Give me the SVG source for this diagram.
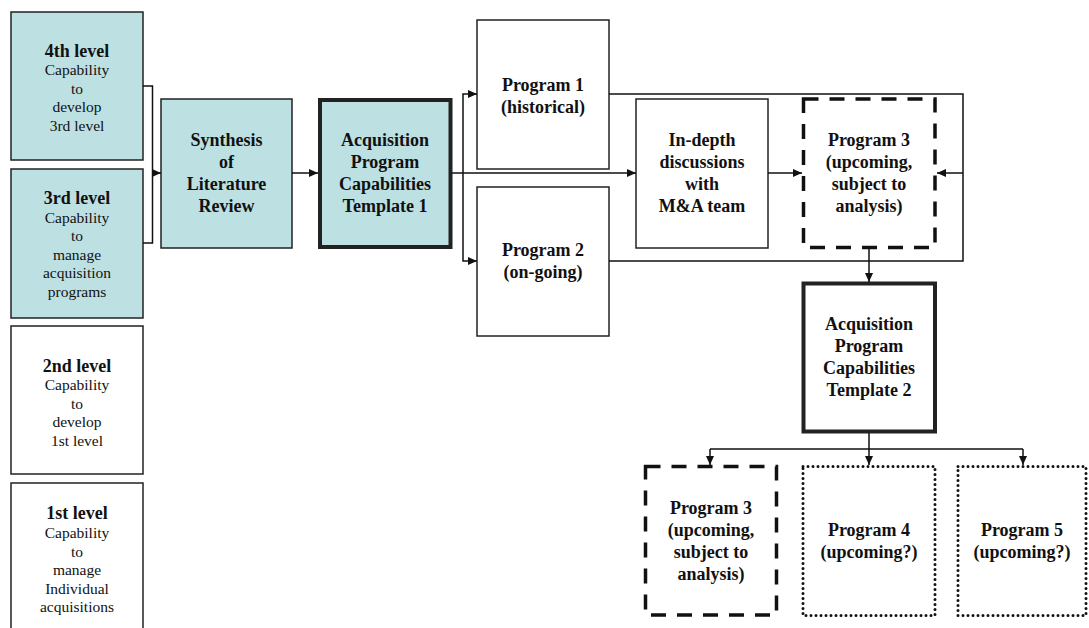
<svg xmlns="http://www.w3.org/2000/svg" width="1089" height="628" viewBox="0 0 1089 628">
  <style>
    .box { fill: #ffffff; stroke: #222; stroke-width: 1.5; }
    .teal { fill: #bde0e3; }
    .thick { stroke-width: 4; }
    .dash { fill: #ffffff; stroke: #111; stroke-width: 3.5; stroke-dasharray: 15 11; }
    .dot { fill: #ffffff; stroke: #111; stroke-width: 3; stroke-dasharray: 0 5; stroke-linecap: round; }
    text { font-family: "Liberation Serif", Tinos, "Times New Roman", Times, "DejaVu Serif", serif; fill: #111; text-anchor: middle; }
    .b { font-weight: bold; font-size: 18px; }
    .r { font-size: 15.5px; }
    .wire { fill: none; stroke: #111; stroke-width: 1.5; }
  </style>
  <defs>
    <marker id="arrow" markerUnits="userSpaceOnUse" markerWidth="10" markerHeight="10" refX="9" refY="5" orient="auto">
      <path d="M0,1 L9,5 L0,9 Z" fill="#111"/>
    </marker>
  </defs>

  <!-- capability levels -->
  <g id="level4">
    <rect class="box teal" x="11" y="12" width="132" height="148"/>
    <text class="b" x="77" y="56.5">4th level</text>
    <text class="r" x="77" y="75">Capability</text>
    <text class="r" x="77" y="93.5">to</text>
    <text class="r" x="77" y="112">develop</text>
    <text class="r" x="77" y="130.5">3rd level</text>
  </g>
  <g id="level3">
    <rect class="box teal" x="11" y="169" width="132" height="149"/>
    <text class="b" x="77" y="204">3rd level</text>
    <text class="r" x="77" y="222.6">Capability</text>
    <text class="r" x="77" y="241.2">to</text>
    <text class="r" x="77" y="259.8">manage</text>
    <text class="r" x="77" y="278.4">acquisition</text>
    <text class="r" x="77" y="297">programs</text>
  </g>
  <g id="level2">
    <rect class="box" x="11" y="326" width="132" height="148"/>
    <text class="b" x="77" y="371.7">2nd level</text>
    <text class="r" x="77" y="390.2">Capability</text>
    <text class="r" x="77" y="408.7">to</text>
    <text class="r" x="77" y="427.2">develop</text>
    <text class="r" x="77" y="445.7">1st level</text>
  </g>
  <g id="level1">
    <rect class="box" x="11" y="483" width="132" height="160"/>
    <text class="b" x="77" y="519.3">1st level</text>
    <text class="r" x="77" y="537.9">Capability</text>
    <text class="r" x="77" y="556.5">to</text>
    <text class="r" x="77" y="575.1">manage</text>
    <text class="r" x="77" y="593.7">Individual</text>
    <text class="r" x="77" y="612.3">acquisitions</text>
  </g>

  <!-- main flow -->
  <g id="synthesis">
    <rect class="box teal" x="161" y="99" width="131" height="149"/>
    <text class="b" x="226.5" y="146">Synthesis</text>
    <text class="b" x="226.5" y="168">of</text>
    <text class="b" x="226.5" y="190">Literature</text>
    <text class="b" x="226.5" y="212">Review</text>
  </g>
  <g id="template1">
    <rect class="box teal thick" x="320" y="100" width="130.5" height="147"/>
    <text class="b" x="385" y="146">Acquisition</text>
    <text class="b" x="385" y="168">Program</text>
    <text class="b" x="385" y="190">Capabilities</text>
    <text class="b" x="385" y="212">Template 1</text>
  </g>
  <g id="program1">
    <rect class="box" x="477" y="20" width="132" height="149"/>
    <text class="b" x="543" y="90.5">Program 1</text>
    <text class="b" x="543" y="112.5">(historical)</text>
  </g>
  <g id="program2">
    <rect class="box" x="477" y="187" width="132" height="149"/>
    <text class="b" x="543" y="256">Program 2</text>
    <text class="b" x="543" y="278">(on-going)</text>
  </g>
  <g id="discussions">
    <rect class="box" x="636" y="99" width="132" height="149"/>
    <text class="b" x="702" y="146">In-depth</text>
    <text class="b" x="702" y="168">discussions</text>
    <text class="b" x="702" y="190">with</text>
    <text class="b" x="702" y="212">M&amp;A team</text>
  </g>
  <g id="program3-upper">
    <rect class="dash" x="803.5" y="99" width="131.5" height="148.5"/>
    <text class="b" x="869" y="146">Program 3</text>
    <text class="b" x="869" y="168">(upcoming,</text>
    <text class="b" x="869" y="190">subject to</text>
    <text class="b" x="869" y="212">analysis)</text>
  </g>
  <g id="template2">
    <rect class="box thick" x="803.5" y="283.5" width="131.5" height="148"/>
    <text class="b" x="869" y="330">Acquisition</text>
    <text class="b" x="869" y="352">Program</text>
    <text class="b" x="869" y="374">Capabilities</text>
    <text class="b" x="869" y="396">Template 2</text>
  </g>
  <g id="program3-lower">
    <rect class="dash" x="645.5" y="466.5" width="131" height="148.5"/>
    <text class="b" x="711" y="514">Program 3</text>
    <text class="b" x="711" y="536">(upcoming,</text>
    <text class="b" x="711" y="558">subject to</text>
    <text class="b" x="711" y="580">analysis)</text>
  </g>
  <g id="program4">
    <rect class="dot" x="803" y="466.5" width="132" height="149"/>
    <text class="b" x="869" y="536">Program 4</text>
    <text class="b" x="869" y="558">(upcoming?)</text>
  </g>
  <g id="program5">
    <rect class="dot" x="958" y="466.5" width="128" height="149"/>
    <text class="b" x="1022" y="536">Program 5</text>
    <text class="b" x="1022" y="558">(upcoming?)</text>
  </g>

  <!-- connectors -->
  <g id="connectors">
    <path class="wire" d="M143 86 H152.5 V243 H143"/>
    <path class="wire" d="M152.5 173 H161" marker-end="url(#arrow)"/>
    <path class="wire" d="M292 173 H318" marker-end="url(#arrow)"/>
    <path class="wire" d="M452 173 H636" marker-end="url(#arrow)"/>
    <path class="wire" d="M463 173 V94 H477" marker-end="url(#arrow)"/>
    <path class="wire" d="M463 173 V261 H477" marker-end="url(#arrow)"/>
    <path class="wire" d="M768 173 H802" marker-end="url(#arrow)"/>
    <path class="wire" d="M609 94 H963 V261 H609"/>
    <path class="wire" d="M963 173 H937" marker-end="url(#arrow)"/>
    <path class="wire" d="M869 249 V282" marker-end="url(#arrow)"/>
    <path class="wire" d="M869 433 V449 M710 449 H1023"/>
    <path class="wire" d="M710 449 V465" marker-end="url(#arrow)"/>
    <path class="wire" d="M869 449 V465" marker-end="url(#arrow)"/>
    <path class="wire" d="M1023 449 V465" marker-end="url(#arrow)"/>
  </g>
</svg>
